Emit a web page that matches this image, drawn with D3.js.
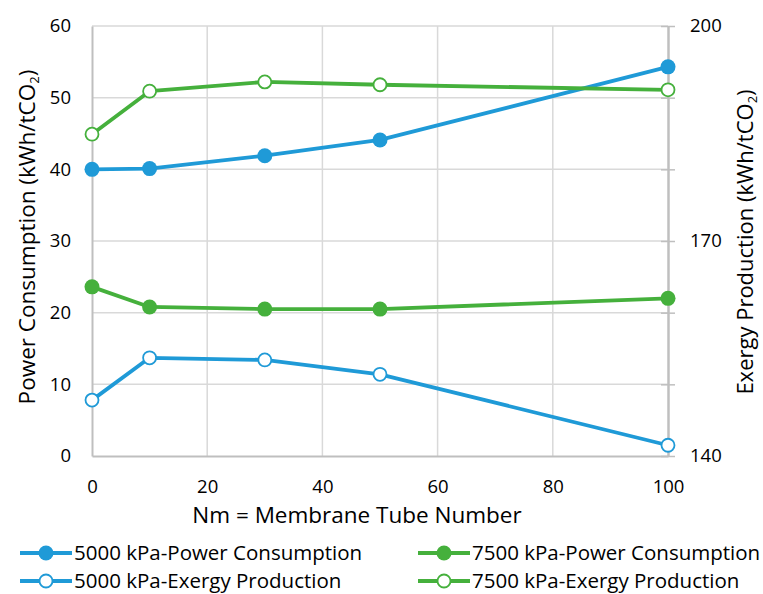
<!DOCTYPE html>
<html>
<head>
<meta charset="utf-8">
<script src="https://cdn.jsdelivr.net/npm/d3@7"></script>
<style>
  body { margin: 0; background: #fff; }
  text { font-family: "Open Sans", sans-serif; fill: #000; }
  .grid line { stroke: #d9d9d9; stroke-width: 1.5; }
</style>
</head>
<body>
<svg id="chart" width="763" height="594"></svg>
<script>
// Membrane tube number vs power / exergy

var tubes = [0, 10, 30, 50, 100]
  , power5000 = [40.0, 40.1, 41.9, 44.1, 54.3]
  , power7500 = [23.6, 20.8, 20.5, 20.5, 22.0]
  , exergy5000 = [147.8, 153.7, 153.4, 151.4, 141.5]
  , exergy7500 = [184.9, 190.9, 192.2, 191.8, 191.1]
  , xTicks = [0, 20, 40, 60, 80, 100]
  , leftTicks = [0, 10, 20, 30, 40, 50, 60]
  , rightTicks = [140, 150, 160, 170, 180, 190, 200]
  , rightLabels = [140, 170, 200]
  ;

var blue = "#1f9ad7", green = "#45b03c";

var series = [
  { name: "5000 kPa-Power Consumption", values: power5000, axis: "left", color: blue, filled: true },
  { name: "7500 kPa-Power Consumption", values: power7500, axis: "left", color: green, filled: true },
  { name: "5000 kPa-Exergy Production", values: exergy5000, axis: "right", color: blue, filled: false },
  { name: "7500 kPa-Exergy Production", values: exergy7500, axis: "right", color: green, filled: false }
];

var plotL = 92, plotR = 668, plotT = 26, plotB = 456;

var svg = d3.select("#chart");

var x = d3.scaleLinear().domain([0, 100]).range([plotL, plotR]);
var yL = d3.scaleLinear().domain([0, 60]).range([plotB, plotT]);
var yR = d3.scaleLinear().domain([140, 200]).range([plotB, plotT]);

// grid
var grid = svg.append("g").attr("class", "grid");
grid.selectAll("line.h").data(leftTicks.slice(1)).enter().append("line")
    .attr("x1", plotL).attr("x2", plotR)
    .attr("y1", function (d) { return yL(d); }).attr("y2", function (d) { return yL(d); });
grid.selectAll("line.v").data(xTicks.slice(1, -1)).enter().append("line")
    .attr("y1", plotT).attr("y2", plotB)
    .attr("x1", function (d) { return x(d); }).attr("x2", function (d) { return x(d); });

// axes
function styleAxis(g) {
  g.select(".domain").attr("stroke", "#bfbfbf").attr("stroke-width", 2);
  g.selectAll(".tick line").attr("stroke", "#bfbfbf").attr("stroke-width", 1.5);
  g.selectAll(".tick text").attr("font-size", 18.5).attr("fill", "#000")
   .style("font-family", "'Open Sans', sans-serif");
}

svg.append("g").attr("transform", "translate(0," + plotB + ")")
   .call(d3.axisBottom(x).tickValues(xTicks).tickSize(0).tickPadding(24).tickSizeOuter(0))
   .call(styleAxis);

svg.append("g").attr("transform", "translate(" + plotL + ",0)")
   .call(d3.axisLeft(yL).tickValues(leftTicks).tickSize(0).tickPadding(21).tickSizeOuter(0))
   .call(styleAxis);

svg.append("g").attr("transform", "translate(" + plotR + ",0)")
   .call(d3.axisRight(yR).tickValues(rightTicks).tickSize(7).tickPadding(15).tickSizeOuter(0)
         .tickFormat(function (d) { return rightLabels.indexOf(d) >= 0 ? d : ""; }))
   .call(styleAxis);
svg.append("g").attr("transform", "translate(" + plotR + ",0)")
   .call(d3.axisLeft(yR).tickValues(rightTicks).tickSize(7).tickFormat("").tickSizeOuter(0))
   .call(styleAxis);

// lines
var line = function (s) {
  var ys = s.axis === "left" ? yL : yR;
  return d3.line().x(function (d, i) { return x(tubes[i]); }).y(function (d) { return ys(d); })(s.values);
};

series.forEach(function (s) {
  var ys = s.axis === "left" ? yL : yR;
  svg.append("path").attr("d", line(s)).attr("fill", "none")
     .attr("stroke", s.color).attr("stroke-width", 3.8).attr("stroke-linejoin", "round");
  svg.selectAll(null).data(s.values).enter().append("circle")
     .attr("cx", function (d, i) { return x(tubes[i]); })
     .attr("cy", function (d) { return ys(d); })
     .attr("r", s.filled ? 7.5 : 6.5)
     .attr("fill", s.filled ? s.color : "#fff")
     .attr("stroke", s.color)
     .attr("stroke-width", s.filled ? 0 : 1.8);
});

// axis titles
svg.append("text").attr("transform", "translate(35," + 237 + ") rotate(-90)")
   .attr("text-anchor", "middle").attr("font-size", 22.5)
   .html('Power Consumption (kWh/tCO<tspan dy="4" font-size="13">2</tspan><tspan dy="-4">)</tspan>');
svg.append("text").attr("transform", "translate(753," + 242 + ") rotate(-90)")
   .attr("text-anchor", "middle").attr("font-size", 22)
   .html('Exergy Production (kWh/tCO<tspan dy="4" font-size="13">2</tspan><tspan dy="-4">)</tspan>');
svg.append("text").attr("x", 357).attr("y", 523)
   .attr("text-anchor", "middle").attr("font-size", 22.5)
   .text("Nm = Membrane Tube Number");

// legend
var legend = svg.selectAll("g.legend").data(series).enter()
  .append("g")
  .attr("transform", function (d, i) {
    return "translate(" + (i % 2 === 0 ? 20 : 418) + "," + (i < 2 ? 553 : 581) + ")";
  });
legend.append("line").attr("x1", 0).attr("x2", 52).attr("y1", 0).attr("y2", 0)
  .attr("stroke", function (d) { return d.color; }).attr("stroke-width", 3.8);
legend.append("circle").attr("cx", 26).attr("cy", 0)
  .attr("r", function (d) { return d.filled ? 7.5 : 6.5; })
  .attr("fill", function (d) { return d.filled ? d.color : "#fff"; })
  .attr("stroke", function (d) { return d.color; })
  .attr("stroke-width", function (d) { return d.filled ? 0 : 1.8; });
legend.append("text").attr("x", 54).attr("y", 7).attr("font-size", 20.5)
  .text(function (d) { return d.name; });
</script>
</body>
</html>
